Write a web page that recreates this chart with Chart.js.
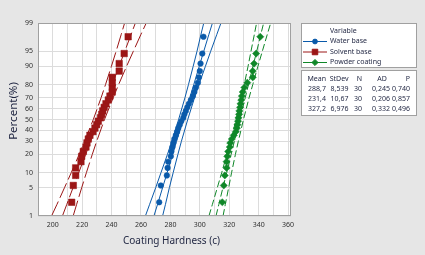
<!DOCTYPE html>
<html><head><meta charset="utf-8">
<script src="https://cdn.jsdelivr.net/npm/chart.js@4.4.1/dist/chart.umd.min.js"></script>
<style>html,body{margin:0;padding:0;background:#e6e6e6;}canvas{display:block;}</style>
</head><body>
<canvas id="c" width="425" height="255"></canvas>
<script>
// ---------- data ----------
const categories = ['Water base', 'Solvent base', 'Powder coating'];
const rankPercents = [2.30, 5.59, 8.88, 12.17, 15.46, 18.75, 22.04, 25.33, 28.62, 31.91, 35.20, 38.49, 41.78, 45.07, 48.36,
  51.64, 54.93, 58.22, 61.51, 64.80, 68.09, 71.38, 74.67, 77.96, 81.25, 84.54, 87.83, 91.12, 94.41, 97.70];
const waterValues = [272.4, 273.5, 277.6, 278.1, 278.5, 280.3, 280.7, 281.4, 282.0, 282.7, 283.7, 284.6, 285.4, 286.4, 287.4,
  288.8, 289.5, 290.5, 291.5, 292.6, 293.9, 295.3, 296.3, 297.3, 298.7, 299.4, 300.0, 300.5, 301.7, 302.5];
const solventValues = [212.9, 214.0, 215.6, 215.6, 219.2, 219.7, 220.8, 222.6, 223.3, 224.2, 225.3, 227.4, 228.7, 229.9, 231.0,
  232.5, 233.3, 234.0, 235.0, 236.2, 237.8, 238.9, 240.5, 240.5, 240.5, 240.5, 245.2, 245.2, 248.6, 251.3];
const powderValues = [315.3, 316.3, 317.0, 318.2, 318.2, 318.7, 319.3, 320.4, 320.7, 321.8, 323.1, 324.5, 325.2, 325.6, 326.0,
  326.3, 326.7, 326.9, 327.4, 327.7, 328.2, 328.6, 329.2, 330.3, 332.3, 336.0, 336.0, 336.9, 338.3, 341.1];

const bandPercents = [1, 2, 5, 10, 20, 30, 50, 70, 80, 90, 95, 98, 99];
const waterFit   = [268.8, 271.2, 274.7, 277.8, 281.5, 284.2, 288.7, 293.2, 295.9, 299.6, 302.7, 306.2, 308.6];
const waterLower = [263.0, 265.8, 270.0, 273.6, 278.0, 281.0, 285.6, 289.9, 292.3, 295.5, 298.1, 300.8, 302.7];
const waterUpper = [274.7, 276.6, 279.3, 281.9, 285.1, 287.5, 291.8, 296.4, 299.4, 303.8, 307.4, 311.6, 314.4];
const solventFit   = [206.6, 209.5, 213.8, 217.7, 222.4, 225.8, 231.4, 237.0, 240.4, 245.1, 249.0, 253.3, 256.2];
const solventLower = [199.2, 202.8, 208.0, 212.6, 218.0, 221.7, 227.6, 232.9, 235.9, 239.9, 243.1, 246.6, 248.9];
const solventUpper = [213.9, 216.2, 219.7, 222.9, 226.9, 229.9, 235.2, 241.1, 244.8, 250.2, 254.8, 260.0, 263.6];
const powderFit   = [311.0, 312.9, 315.7, 318.3, 321.3, 323.5, 327.2, 330.9, 333.1, 336.1, 338.7, 341.5, 343.4];
const powderLower = [306.2, 308.5, 311.9, 314.9, 318.4, 320.9, 324.7, 328.2, 330.2, 332.8, 334.8, 337.1, 338.6];
const powderUpper = [315.8, 317.3, 319.6, 321.6, 324.2, 326.2, 329.7, 333.5, 336.0, 339.5, 342.5, 345.9, 348.2];

const means = [288.7, 231.4, 327.2];
const stDevs = [8.539, 10.67, 6.976];
const counts = [30, 30, 30];
const adValues = [0.245, 0.206, 0.332];
const pValues = [0.740, 0.857, 0.496];

const yTickValues = [1, 5, 10, 20, 30, 40, 50, 60, 70, 80, 90, 95, 99];
const xTickLabels = [200, 220, 240, 260, 280, 300, 320, 340, 360];

// ---------- styles ----------
const FONT = '"Noto Sans", "DejaVu Sans", sans-serif';
const seriesStyle = [
  {color: '#0a5aaa', pointStyle: 'circle', radius: 2.8, dash: []},
  {color: '#9b1616', pointStyle: 'rect', radius: 4.6, dash: [16, 4]},
  {color: '#0f8728', pointStyle: 'rectRot', radius: 3.6, dash: [7, 3]}
];

// ---------- probability (normal) scale ----------
function invNorm(p) {
  const a=[-39.69683028665376,220.9460984245205,-275.9285104469687,138.3577518672690,-30.66479806614716,2.506628277459239];
  const b=[-54.47609879822406,161.5858368580409,-155.6989798598866,66.80131188771972,-13.28068155288572];
  const c=[-0.007784894002430293,-0.3223964580411365,-2.400758277161838,-2.549732539343734,4.374664141464968,2.938163982698783];
  const d=[0.007784695709041462,0.3224671290700398,2.445134137142996,3.754408661907416];
  const pl=0.02425, ph=1-pl; let q, r;
  if (p < pl) { q=Math.sqrt(-2*Math.log(p)); return (((((c[0]*q+c[1])*q+c[2])*q+c[3])*q+c[4])*q+c[5])/((((d[0]*q+d[1])*q+d[2])*q+d[3])*q+1); }
  if (p <= ph) { q=p-0.5; r=q*q; return (((((a[0]*r+a[1])*r+a[2])*r+a[3])*r+a[4])*r+a[5])*q/(((((b[0]*r+b[1])*r+b[2])*r+b[3])*r+b[4])*r+1); }
  q=Math.sqrt(-2*Math.log(1-p)); return -(((((c[0]*q+c[1])*q+c[2])*q+c[3])*q+c[4])*q+c[5])/((((d[0]*q+d[1])*q+d[2])*q+d[3])*q+1);
}
function normCdf(z) {
  const t = 1/(1+0.2316419*Math.abs(z));
  const y = 0.3989423*Math.exp(-z*z/2)*t*(0.3193815+t*(-0.3565638+t*(1.781478+t*(-1.821256+t*1.330274))));
  return z > 0 ? 1-y : y;
}
class ProbitScale extends Chart.Scale {
  static id = 'probit';
  static defaults = {};
  parse(raw) { return +raw; }
  determineDataLimits() { this.min = this.options.min; this.max = this.options.max; }
  buildTicks() { return yTickValues.map(v => ({value: v})); }
  getLabelForValue(v) { return String(v); }
  configure() { super.configure(); this._zs = invNorm(this.min/100); this._ze = invNorm(this.max/100); }
  getPixelForValue(v) { return this.getPixelForDecimal((invNorm(v/100) - this._zs)/(this._ze - this._zs)); }
  getValueForPixel(px) { const dec = this.getDecimalForPixel(px); return 100*normCdf(this._zs + dec*(this._ze - this._zs)); }
}
Chart.register(ProbitScale);

// ---------- datasets ----------
const seriesValues = [waterValues, solventValues, powderValues];
const fits = [waterFit, solventFit, powderFit];
const lowers = [waterLower, solventLower, powderLower];
const uppers = [waterUpper, solventUpper, powderUpper];
const datasets = [];
seriesValues.forEach((vals, s) => {
  const st = seriesStyle[s];
  datasets.push({label: categories[s], data: vals.map((v, i) => ({x: v, y: rankPercents[i]})),
    showLine: false, pointStyle: st.pointStyle, pointRadius: st.radius, pointBackgroundColor: st.color,
    pointBorderColor: st.color, pointBorderWidth: 0.5, order: 0});
});
[fits, lowers, uppers].forEach(group => group.forEach((arr, s) => {
  const st = seriesStyle[s];
  datasets.push({label: '', data: arr.map((v, i) => ({x: v, y: bandPercents[i]})),
    showLine: true, pointRadius: 0, borderColor: st.color, borderWidth: 1, borderDash: st.dash, fill: false, order: 1});
}));

const fmt = (n, d) => n.toFixed(d).replace('.', ',');

const decorPlugin = {
  id: 'decor',
  beforeDraw(chart) {
    const ctx = chart.ctx, a = chart.chartArea;
    ctx.save();
    ctx.fillStyle = '#e6e6e6'; ctx.fillRect(0, 0, chart.width, chart.height);
    ctx.fillStyle = '#ffffff'; ctx.fillRect(a.left, a.top, a.right - a.left, a.bottom - a.top);
    ctx.restore();
  },
  afterDraw(chart) {
    const ctx = chart.ctx, a = chart.chartArea;
    ctx.save();
    // plot frame
    ctx.strokeStyle = '#a0a0a0'; ctx.lineWidth = 1;
    ctx.strokeRect(Math.round(a.left) + 0.5, Math.round(a.top) + 0.5, Math.round(a.right - a.left) - 1, Math.round(a.bottom - a.top) - 1);
    // axis titles
    ctx.fillStyle = '#1e2440';
    ctx.textAlign = 'center'; ctx.textBaseline = 'middle';
    ctx.font = '10px ' + FONT;
    ctx.fillText('Coating Hardness (c)', 171.5, 241);
    ctx.save(); ctx.translate(13.5, 111); ctx.rotate(-Math.PI/2);
    ctx.font = '11.5px ' + FONT; ctx.fillText('Percent(%)', 0, 0); ctx.restore();
    // legend box
    ctx.fillStyle = '#ffffff'; ctx.strokeStyle = '#a0a0a0';
    ctx.fillRect(301.5, 23.5, 115, 44); ctx.strokeRect(301.5, 23.5, 115, 44);
    ctx.fillRect(301.5, 70.5, 115, 45); ctx.strokeRect(301.5, 70.5, 115, 45);
    ctx.font = '7px ' + FONT; ctx.textAlign = 'left'; ctx.fillStyle = '#1e2440';
    ctx.fillText('Variable', 330, 31);
    const rowsY = [41, 51.5, 62];
    categories.forEach((name, s) => {
      const st = seriesStyle[s], y = rowsY[s];
      ctx.strokeStyle = st.color; ctx.lineWidth = 1; ctx.setLineDash([]);
      ctx.beginPath(); ctx.moveTo(303, y + 0.5); ctx.lineTo(327, y + 0.5); ctx.stroke();
      ctx.fillStyle = st.color;
      Chart.helpers.drawPoint(ctx, {pointStyle: st.pointStyle, radius: st.radius * 0.85, rotation: 0, borderWidth: 0.5}, 315, y + 0.5);
      ctx.fillStyle = '#1e2440';
      ctx.fillText(name, 330, y);
    });
    // stats table
    const colX = [326, 348.5, 362, 390, 410];
    const head = ['Mean', 'StDev', 'N', 'AD', 'P'];
    ctx.textAlign = 'right';
    head.forEach((h, j) => {
      if (h === 'AD') { ctx.textAlign = 'center'; ctx.fillText(h, 382, 78.5); ctx.textAlign = 'right'; }
      else ctx.fillText(h, colX[j], 78.5);
    });
    const rowY = [88.5, 98.5, 108.5];
    for (let s = 0; s < 3; s++) {
      const cells = [fmt(means[s], 1), stDevs[s].toPrecision(4).replace('.', ','), String(counts[s]),
        fmt(adValues[s], 3), fmt(pValues[s], 3)];
      cells.forEach((t, j) => ctx.fillText(t, colX[j], rowY[s]));
    }
    ctx.restore();
  }
};

new Chart(document.getElementById('c'), {
  type: 'scatter',
  data: {datasets},
  plugins: [decorPlugin],
  options: {
    responsive: false, animation: false, devicePixelRatio: 1,
    layout: {padding: {top: 23, right: 134, left: 0, bottom: 0}},
    plugins: {legend: {display: false}, tooltip: {enabled: false}},
    scales: {
      x: {
        type: 'linear', min: 190, max: 362,
        afterFit: s => { s.height = 39; },
        grid: {color: '#dcdcdc', lineWidth: 1, drawTicks: false},
        border: {display: false},
        ticks: {stepSize: 10, includeBounds: false, autoSkip: false, maxRotation: 0, padding: 5,
          color: '#303030', font: {family: FONT, size: 7},
          callback: v => xTickLabels.includes(v) ? String(v) : ''}
      },
      y: {
        type: 'probit', min: 1, max: 99,
        afterFit: s => { s.width = 38; },
        grid: {color: '#dcdcdc', lineWidth: 1, drawTicks: false},
        border: {display: false},
        ticks: {autoSkip: false, padding: 5, color: '#303030', font: {family: FONT, size: 7}}
      }
    }
  }
});
</script>
</body></html>
